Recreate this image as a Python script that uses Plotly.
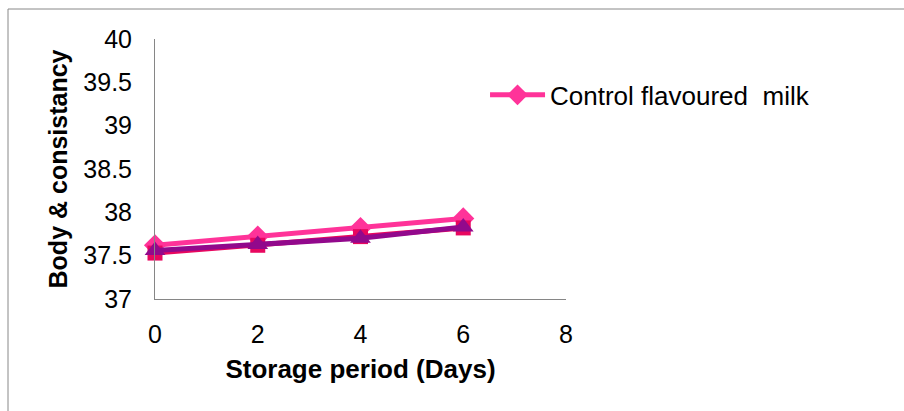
import plotly.graph_objects as go

days = [0, 2, 4, 6]
control = [37.62, 37.72, 37.82, 37.93]
series_b = [37.53, 37.62, 37.72, 37.82]
series_c = [37.56, 37.63, 37.70, 37.83]
legend_name = "Control flavoured  milk"
x_title = "Storage period (Days)"
y_title = "Body & consistancy"

FONT = "Liberation Sans, Arial, sans-serif"

fig = go.Figure()
fig.add_trace(go.Scatter(
    x=days, y=control, mode="lines+markers", name=legend_name,
    line=dict(color="#FF3399", width=5),
    marker=dict(symbol="diamond", size=17, color="#FF3399"),
    cliponaxis=False,
))
fig.add_trace(go.Scatter(
    x=days, y=series_b, mode="lines+markers", showlegend=False,
    line=dict(color="#E8075F", width=5),
    marker=dict(symbol="square", size=15, color="#E8075F"),
    cliponaxis=False,
))
fig.add_trace(go.Scatter(
    x=days, y=series_c, mode="lines+markers", showlegend=False,
    line=dict(color="#92098C", width=5),
    marker=dict(symbol="triangle-up", size=18, color="#92098C"),
    cliponaxis=False,
))

fig.update_layout(
    width=904, height=411,
    margin=dict(l=155, r=338, t=39, b=112),
    paper_bgcolor="white", plot_bgcolor="white",
    font=dict(family=FONT, size=25, color="black"),
    showlegend=True,
    legend=dict(x=0.803, y=0.785, xanchor="left", yanchor="middle",
                itemwidth=55,
                font=dict(size=26), bgcolor="rgba(0,0,0,0)"),
    xaxis=dict(range=[0, 8], dtick=2, tick0=0, showgrid=False, zeroline=False,
               showline=True, linecolor="#868686", linewidth=1,
               ticks="", ticklabelstandoff=13,
               title=dict(text="<b>" + x_title + "</b>", font=dict(size=26), standoff=12)),
    yaxis=dict(range=[37, 40], dtick=0.5, tick0=37, showgrid=False, zeroline=False,
               showline=True, linecolor="#868686", linewidth=1,
               ticks="", ticklabelstandoff=17,
               title=dict(text="<b>" + y_title + "</b>", font=dict(size=25), standoff=8)),
    shapes=[dict(type="rect", xref="paper", yref="paper",
                 x0=(8 - 155) / 411, x1=(920 - 155) / 411,
                 y0=(299 - 430) / 260, y1=(299 - 9) / 260,
                 line=dict(color="#888888", width=1), fillcolor="rgba(0,0,0,0)",
                 layer="below")],
)

fig.write_html("out.html")
